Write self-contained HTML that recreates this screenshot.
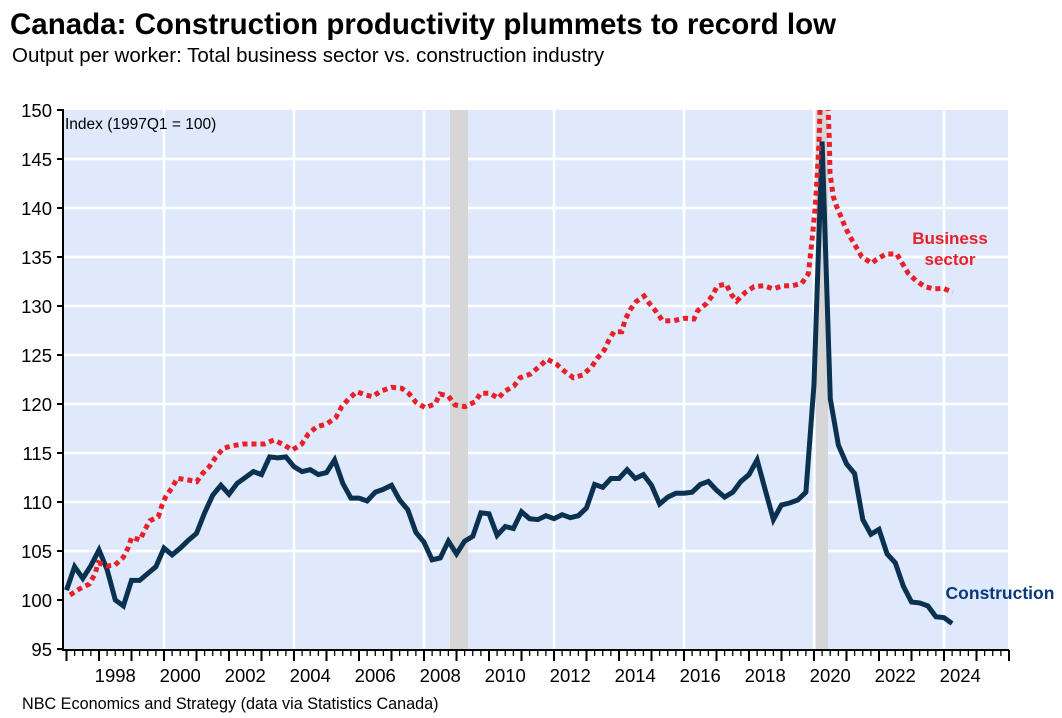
<!DOCTYPE html>
<html><head><meta charset="utf-8"><style>
html,body{margin:0;padding:0;background:#fff;}
svg{display:block;font-family:"Liberation Sans",Arial,sans-serif;}
</style></head><body>
<svg id="s" width="1062" height="718" viewBox="0 0 1062 718" xmlns="http://www.w3.org/2000/svg">
<text x="10" y="34" font-size="29.5" font-weight="bold" fill="#000">Canada: Construction productivity plummets to record low</text>
<text x="12" y="62" font-size="20.5" fill="#000">Output per worker: Total business sector vs. construction industry</text>
<rect x="64" y="110" width="944" height="540" fill="#dfe9fb"/>
<g id="grid" stroke="#fff" stroke-width="2.5"></g>
<rect x="450" y="110" width="18" height="540" fill="#d6d6d6"/>
<rect x="816" y="110" width="12" height="540" fill="#d6d6d6"/>
<defs><clipPath id="cp"><rect x="64" y="110" width="944" height="540"/></clipPath></defs>
<g clip-path="url(#cp)">
<polyline id="con" fill="none" stroke="#0b3150" stroke-width="5" stroke-linejoin="miter"/>
<polyline id="bus" fill="none" stroke="#e8202a" stroke-width="5" stroke-dasharray="5 4"/>
</g>
<g id="axes" stroke="#000" stroke-width="2"></g>
<g font-size="18.5" fill="#000" text-anchor="end">
<text x="52" y="117">150</text><text x="52" y="166">145</text><text x="52" y="215">140</text>
<text x="52" y="264">135</text><text x="52" y="313">130</text><text x="52" y="362">125</text>
<text x="52" y="411">120</text><text x="52" y="460">115</text><text x="52" y="509">110</text>
<text x="52" y="558">105</text><text x="52" y="607">100</text><text x="52" y="656">95</text>
</g>
<g id="xl" font-size="18.5" fill="#000" text-anchor="middle"></g>
<text x="65" y="129" font-size="15.5" fill="#000">Index (1997Q1 = 100)</text>
<text x="950" y="244" font-size="17" font-weight="bold" fill="#e8202a" text-anchor="middle">Business</text>
<text x="950" y="265" font-size="17" font-weight="bold" fill="#e8202a" text-anchor="middle">sector</text>
<text x="1000" y="599" font-size="17.5" font-weight="bold" fill="#0b3a78" text-anchor="middle">Construction</text>
<text x="22" y="709" font-size="16.2" fill="#000">NBC Economics and Strategy (data via Statistics Canada)</text>
</svg>
<script>
var Y=function(v){return 600-(v-100)*9.8;};
var X=function(yr){return 814+(yr-2020)*32.5;};
var ns="http://www.w3.org/2000/svg";
function ln(g,x1,y1,x2,y2,w){var l=document.createElementNS(ns,"line");l.setAttribute("x1",x1);l.setAttribute("y1",y1);l.setAttribute("x2",x2);l.setAttribute("y2",y2);if(w)l.setAttribute("stroke-width",w);g.appendChild(l);}
var grid=document.getElementById("grid"),ax=document.getElementById("axes"),xl=document.getElementById("xl");
for(var v=105;v<150;v+=5)ln(grid,64,Y(v),1008,Y(v));
for(var yr=2000;yr<=2024;yr+=4){ln(grid,X(yr),110,X(yr),650);}
ln(ax,63,109,63,651);ln(ax,62,650,1009,650);
for(var v=95;v<=150;v+=5)ln(ax,57,Y(v),63,Y(v));
for(var q=0;q<=116;q++){var x=X(1997)+q*8.125;if(x>1009)break;ln(ax,x,650,x,q%4==0?661:656,q%4==0?2:1.3);}
for(var yr=1998;yr<=2024;yr+=2){var t=document.createElementNS(ns,"text");t.setAttribute("x",X(yr+0.5));t.setAttribute("y",682);t.textContent=yr;xl.appendChild(t);}
var c=[101.0,103.4,102.2,103.5,105.1,103.1,100.0,99.4,102.0,102.0,102.7,103.4,105.3,104.6,105.3,106.1,106.8,108.9,110.7,111.7,110.8,111.9,112.5,113.1,112.8,114.6,114.5,114.6,113.6,113.1,113.3,112.8,113.0,114.3,111.9,110.4,110.4,110.1,111.0,111.3,111.7,110.2,109.2,106.9,105.9,104.1,104.3,106.0,104.7,106.0,106.5,108.9,108.8,106.6,107.5,107.3,109.0,108.3,108.2,108.6,108.3,108.7,108.4,108.6,109.4,111.8,111.5,112.4,112.4,113.3,112.4,112.8,111.7,109.8,110.5,110.9,110.9,111.0,111.8,112.1,111.2,110.5,111.0,112.1,112.8,114.3,111.2,108.2,109.7,109.9,110.2,111.0,122.0,146.8,120.5,115.8,113.9,112.9,108.2,106.7,107.2,104.7,103.8,101.4,99.8,99.7,99.4,98.3,98.2,97.6];
document.getElementById("con").setAttribute("points",c.map(function(v,i){return (X(1997)+i*8.125).toFixed(1)+","+Y(v).toFixed(1);}).join(" "));
var z3=[[30,675],[58,657],[88,642],[105,612],[115,578],[140,588],[165,585],[190,562],[205,532],[215,502],[240,510],[255,478],[270,452],[295,440],[305,408],[318,378],[335,355],[352,325],[385,330],[410,335],[428,310],[448,290],[467,262],[490,235],[518,227],[550,222],[580,222],[612,222],[642,210],[672,225],[697,240],[725,222],[745,192],[770,170],[800,162],[828,142],[845,110],[865,88],[890,65],[918,75],[937,80],[963,63],[995,52],[1025,55],[1048,72],[1068,97],[1095,113],[1125,102],[1140,72],[1165,78],[1185,105]];
var z4=[[75,410],[105,395],[122,370],[150,370],[175,385],[192,365],[222,348],[240,323],[270,313],[297,290],[322,268],[350,283],[375,305],[400,323],[428,315],[455,290],[472,265],[493,240],[507,210],[522,185],[545,185],[555,150],[570,120],[588,95],[612,78],[628,100],[650,127],[668,153],[700,152],[735,145],[762,147],[773,122],[800,100],[818,75],[832,48],[858,42],[875,75],[890,93],[915,68],[942,50],[972,47],[1000,57],[1025,48],[1058,47],[1085,40],[1105,12]];
var z2=[[95,430],[100,380],[105,330],[110,250],[117,130],[122,-40],[142,-40],[148,120],[150,220],[160,290],[170,320],[183,350],[195,380],[210,410],[228,440],[245,470],[275,490],[290,478],[318,462],[350,462],[368,492],[385,520],[408,542],[435,560],[462,567],[490,565],[518,577]];
var pts=[];
z3.forEach(function(p){pts.push([60+p[0]/3,370+p[1]/3]);});
z4.forEach(function(p){pts.push([440+p[0]/3,270+p[1]/3]);});
z2.forEach(function(p){pts.push([780+p[0]/3,100+p[1]/3]);});
document.getElementById("bus").setAttribute("points",pts.map(function(p){return p[0].toFixed(1)+","+p[1].toFixed(1);}).join(" "));
</script>
</body></html>
